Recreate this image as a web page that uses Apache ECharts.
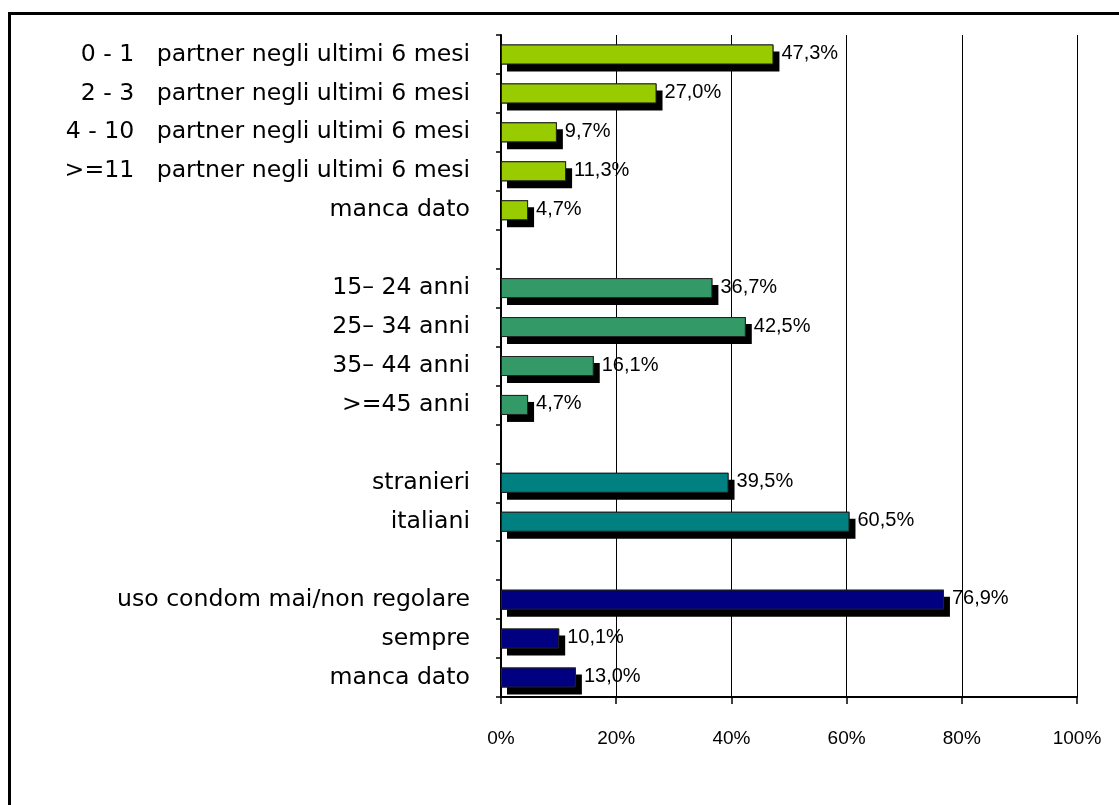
<!DOCTYPE html>
<html>
<head>
<meta charset="utf-8">
<script src="https://cdn.jsdelivr.net/npm/echarts@6/dist/echarts.min.js"></script>
<style>
  html, body { margin: 0; padding: 0; background: #fff; }
  #wrap { position: relative; width: 1119px; height: 805px; overflow: hidden; }
  #frame { position: absolute; left: 8px; top: 12px; width: 1200px; height: 900px;
           border-left: 3px solid #000; border-top: 3px solid #000; }
  #chart { position: absolute; left: 0; top: 0; width: 1119px; height: 805px; }
</style>
</head>
<body>
<div id="wrap">
  <div id="frame"></div>
  <div id="chart"></div>
</div>
<script>
// groups, top to bottom
const partnerLabels = [
  '0 - 1   partner negli ultimi 6 mesi',
  '2 - 3   partner negli ultimi 6 mesi',
  '4 - 10   partner negli ultimi 6 mesi',
  '>=11   partner negli ultimi 6 mesi',
  'manca dato'
]
const partnerValues = [47.3, 27.0, 9.7, 11.3, 4.7]

const ageLabels = ['15\u2013 24 anni', '25\u2013 34 anni', '35\u2013 44 anni', '>=45 anni']
const ageValues = [36.7, 42.5, 16.1, 4.7]

const originLabels = ['stranieri', 'italiani']
const originValues = [39.5, 60.5]

const condomLabels = ['uso condom mai/non regolare', 'sempre', 'manca dato']
const condomValues = [76.9, 10.1, 13.0]

const groupColors = ['#99cc00', '#339966', '#008080', '#000080']
const xTicks = [0, 20, 40, 60, 80, 100]

// build category list with an empty slot between groups
const groups = [
  [partnerLabels, partnerValues],
  [ageLabels, ageValues],
  [originLabels, originValues],
  [condomLabels, condomValues],
]
const categories = []
const barData = []
const shadowData = []
groups.forEach(([labels, values], gi) => {
  if (gi > 0) {
    categories.push('')
    barData.push('-')
    shadowData.push('-')
  }
  labels.forEach((l, i) => {
    categories.push(l)
    barData.push({ value: values[i], itemStyle: { color: groupColors[gi] } })
    shadowData.push(values[i])
  })
})

const chart = echarts.init(document.getElementById('chart'))
chart.setOption({
  animation: false,
  grid: { left: 501, right: 42, top: 35, bottom: 108 },
  xAxis: {
    type: 'value',
    min: xTicks[0],
    max: xTicks[xTicks.length - 1],
    interval: 20,
    axisLine: { show: true, lineStyle: { color: '#000', width: 2 } },
    axisTick: { show: true, length: 7, lineStyle: { color: '#000', width: 1.5 } },
    splitLine: { show: true, lineStyle: { color: '#000', width: 1 } },
    axisLabel: {
      formatter: '{value}%',
      margin: 32,
      color: '#000',
      fontFamily: 'Liberation Sans',
      fontSize: 19,
    },
  },
  yAxis: {
    type: 'category',
    inverse: true,
    data: categories,
    axisLine: { show: true, lineStyle: { color: '#000', width: 2 } },
    axisTick: { show: true, length: 5, lineStyle: { color: '#000', width: 1.5 } },
    axisLabel: {
      margin: 31,
      color: '#000',
      fontFamily: 'DejaVu Sans',
      fontSize: 23.6,
      interval: 0,
    },
  },
  series: [
    {
      // drop shadow underneath
      type: 'bar',
      data: shadowData,
      barWidth: 20,
      silent: true,
      itemStyle: {
        color: '#000',
        shadowColor: '#000',
        shadowOffsetX: 6,
        shadowOffsetY: 7,
        shadowBlur: 0,
      },
    },
    {
      type: 'bar',
      data: barData,
      barWidth: 20,
      barGap: '-100%',
      itemStyle: {
        borderColor: '#222',
        borderWidth: 1,
      },
      label: {
        show: true,
        position: 'right',
        distance: 8,
        offset: [0, -1],
        color: '#000',
        fontFamily: 'Liberation Sans',
        fontSize: 20,
        formatter: p => p.value.toFixed(1).replace('.', ',') + '%',
      },
    },
  ],
})
</script>
</body>
</html>
